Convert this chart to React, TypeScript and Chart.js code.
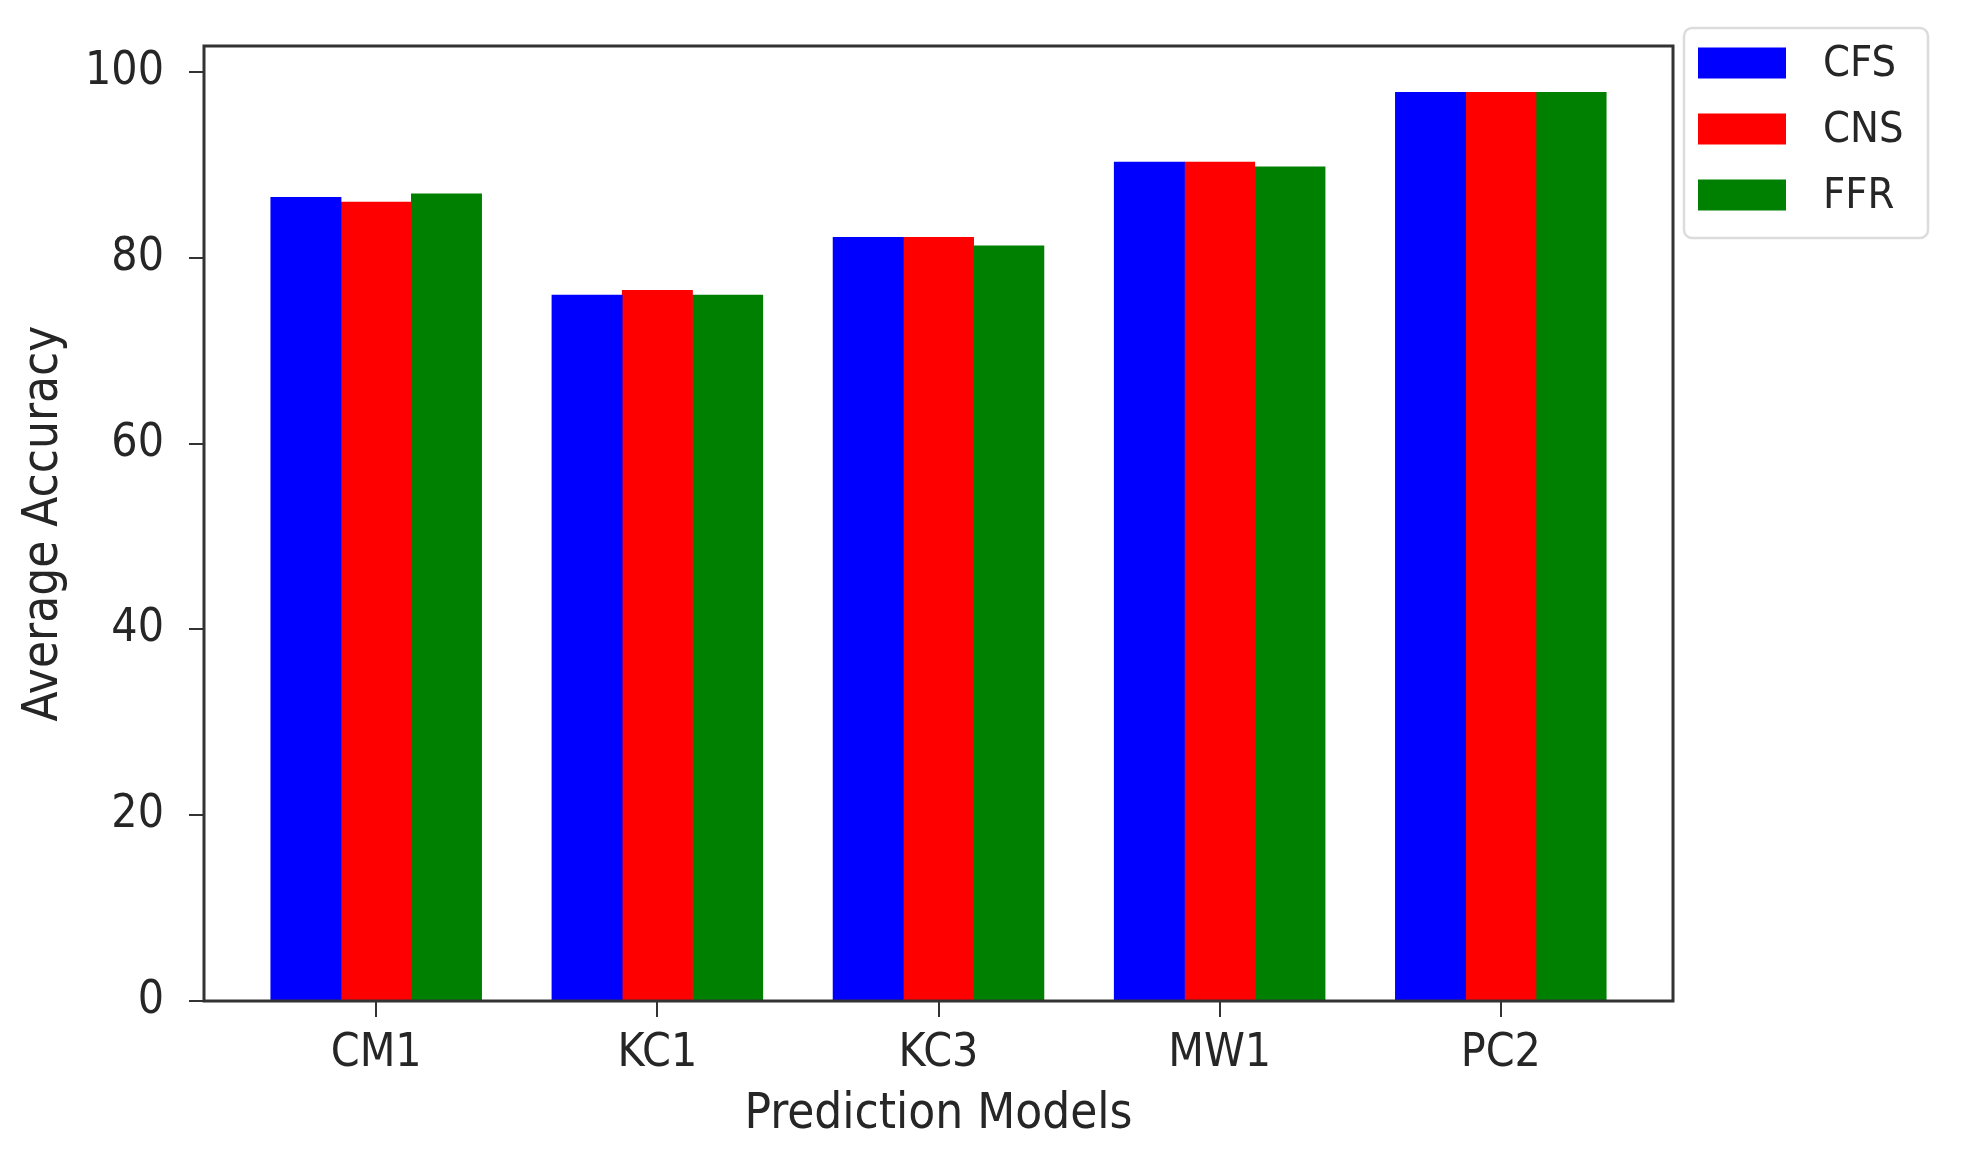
import React, { useEffect, useRef } from 'react';
import { Chart, registerables } from 'chart.js';

Chart.register(...registerables);

// data
const models = ['CM1', 'KC1', 'KC3', 'MW1', 'PC2'];
const seriesNames = ['CFS', 'CNS', 'FFR'];
const cfsValues = [86.5, 76.0, 82.2, 90.3, 97.8];
const cnsValues = [86.0, 76.5, 82.2, 90.3, 97.8];
const ffrValues = [86.9, 76.0, 81.3, 89.8, 97.8];
const yTicks = [0, 20, 40, 60, 80, 100];

const seriesValues = [cfsValues, cnsValues, ffrValues];
const seriesColors = ['#0000ff', '#ff0000', '#008000'];

const FONT = "'DejaVu Sans Condensed', 'DejaVu Sans', sans-serif";
const TEXT = '#262626';
const BAR_W = 0.25;

// matplotlib-like box around the axes
const frame = {
  id: 'frame',
  afterDatasetsDraw(chart: any) {
    const { ctx, chartArea } = chart;
    ctx.save();
    ctx.strokeStyle = '#333';
    ctx.lineWidth = 3;
    ctx.strokeRect(chartArea.left, chartArea.top, chartArea.right - chartArea.left, chartArea.bottom - chartArea.top);
    ctx.restore();
  }
};

// legend outside the axes, top right, with a light rounded border
const legendBox = {
  id: 'legendBox',
  afterDraw(chart: any) {
    const { ctx } = chart;
    ctx.save();
    ctx.beginPath();
    ctx.roundRect(1684, 28, 244, 210, 8);
    ctx.fillStyle = '#fff';
    ctx.fill();
    ctx.strokeStyle = '#dcdcdc';
    ctx.lineWidth = 2.5;
    ctx.stroke();
    chart.data.datasets.forEach((ds: any, i: number) => {
      const cy = 63 + i * 66;
      ctx.fillStyle = ds.backgroundColor;
      ctx.fillRect(1698, cy - 15.5, 88, 31);
      ctx.fillStyle = TEXT;
      ctx.font = `43px ${FONT}`;
      ctx.textBaseline = 'middle';
      ctx.textAlign = 'left';
      ctx.fillText(ds.label, 1823, cy + 2);
    });
    ctx.restore();
  }
};

const noPad = (scale: any) => {
  scale.paddingTop = 0;
  scale.paddingBottom = 0;
  scale.paddingLeft = 0;
  scale.paddingRight = 0;
};

const App: React.FC = () => {
  const canvasRef = useRef<HTMLCanvasElement>(null);

  useEffect(() => {
    const ctx = canvasRef.current?.getContext('2d');
    if (!ctx) return;

    const chart = new Chart(ctx, {
      type: 'bar',
      data: {
        datasets: seriesNames.map((name, d) => ({
          label: name,
          data: seriesValues[d].map((v, i) => ({ x: i + (d - 1) * BAR_W, y: v })),
          backgroundColor: seriesColors[d],
          borderWidth: 0,
          grouped: false,
          barPercentage: 1,
          categoryPercentage: 1
        }))
      },
      options: {
        animation: false,
        responsive: true,
        maintainAspectRatio: false,
        layout: { padding: { top: 46, right: 288, left: 0, bottom: 0 } },
        plugins: {
          legend: { display: false },
          tooltip: { enabled: false }
        },
        scales: {
          x: {
            type: 'linear',
            offset: false,
            min: -0.6125,
            max: 4.6125,
            border: { display: false },
            grid: { offset: false, drawOnChartArea: false, drawTicks: true, tickLength: 16, tickColor: '#333', lineWidth: 2 },
            afterBuildTicks: (scale: any) => {
              scale.ticks = models.map((_, i) => ({ value: i }));
            },
            afterFit: (scale: any) => {
              scale.height = 160;
              noPad(scale);
            },
            ticks: {
              color: TEXT,
              font: { family: FONT, size: 46, lineHeight: 1.2 },
              padding: 9,
              maxRotation: 0,
              autoSkip: false,
              callback: (value: any) => models[Math.round(Number(value))] ?? ''
            },
            title: {
              display: true,
              text: 'Prediction Models',
              color: TEXT,
              font: { family: FONT, size: 49, lineHeight: 1.2 },
              padding: { top: 0, bottom: 16 }
            }
          },
          y: {
            min: 0,
            max: 102.8,
            border: { display: false },
            grid: { drawOnChartArea: false, drawTicks: true, tickLength: 15, tickColor: '#333', lineWidth: 2 },
            afterBuildTicks: (scale: any) => {
              scale.ticks = yTicks.map((v) => ({ value: v }));
            },
            afterFit: (scale: any) => {
              scale.width = 204;
              noPad(scale);
            },
            ticks: {
              color: TEXT,
              font: { family: FONT, size: 46, lineHeight: 1.2 },
              padding: 25
            },
            title: {
              display: true,
              text: 'Average Accuracy',
              color: TEXT,
              font: { family: FONT, size: 49, lineHeight: 1.2 },
              padding: { top: 15, bottom: 0 }
            }
          }
        }
      },
      plugins: [frame, legendBox]
    });

    return () => {
      chart.destroy();
    };
  }, []);

  return (
    <div
      style={{
        position: 'fixed',
        left: 0,
        top: 0,
        width: '1961px',
        height: '1161px',
        background: '#fff'
      }}
    >
      <canvas ref={canvasRef} />
    </div>
  );
};

export default App;
